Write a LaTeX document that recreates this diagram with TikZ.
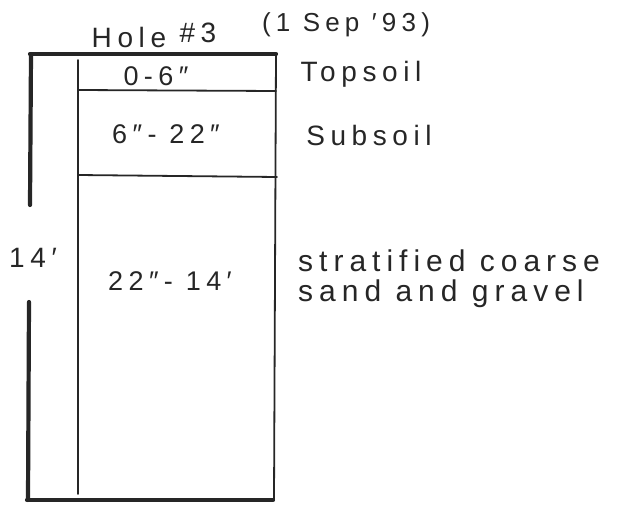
\documentclass[tikz,border=0pt]{standalone}
\usepackage{fontspec}
\setmainfont[LetterSpace=20]{Liberation Sans}
\definecolor{ink}{HTML}{262626}
\begin{document}
\begin{tikzpicture}[x=1pt,y=-1pt,
  heavy/.style={draw=ink,line width=4.2pt,line cap=round},
  light/.style={draw=ink,line width=1.8pt,line cap=round},
  hand/.style={text=ink,inner sep=0pt,font=\fontsize{28}{32}\selectfont},
  handsm/.style={text=ink,inner sep=0pt,font=\fontsize{27}{30}\selectfont}]
\useasboundingbox (0,0) rectangle (632,506);
% box
\coordinate (tl) at (31,54);
\coordinate (tr) at (276,54);
\coordinate (bl) at (28,500);
\coordinate (br) at (273,500);
\draw[heavy] (30,54) -- (tr);
\draw[light] (276,54) -- (274,500);
\draw[heavy] (27,500) -- (br);
\draw[heavy] (tl) -- (30,205);
\draw[heavy] (29,302) -- (bl);
\draw[light] (78,60) -- (78,494);
\draw[light] (78,90) -- (276,91);
\draw[light] (78,175) -- (277,177);
% labels
\node[hand] (hole) at (154,35) {Hole \raisebox{5pt}{\#3}};
\node[hand,font=\fontsize{26}{30}\selectfont] (date) at (346,25) {(1 Sep ′93)};
\node[handsm] (l1) at (156,76) {0-6″};
\node[handsm] (l2) at (166,134) {6″- 22″};
\node[handsm] (l3) at (170,281) {22″- 14′};
\node[hand] (d14) at (33,258) {14′};
\node[hand] (top) at (361,74) {Topsoil};
\node[hand] (sub) at (369,135) {Subsoil};
\node[hand,font=\fontsize{30}{30}\selectfont,align=left,anchor=west] (strat) at (298,279) {stratified coarse\\sand and gravel};
\end{tikzpicture}
\end{document}
